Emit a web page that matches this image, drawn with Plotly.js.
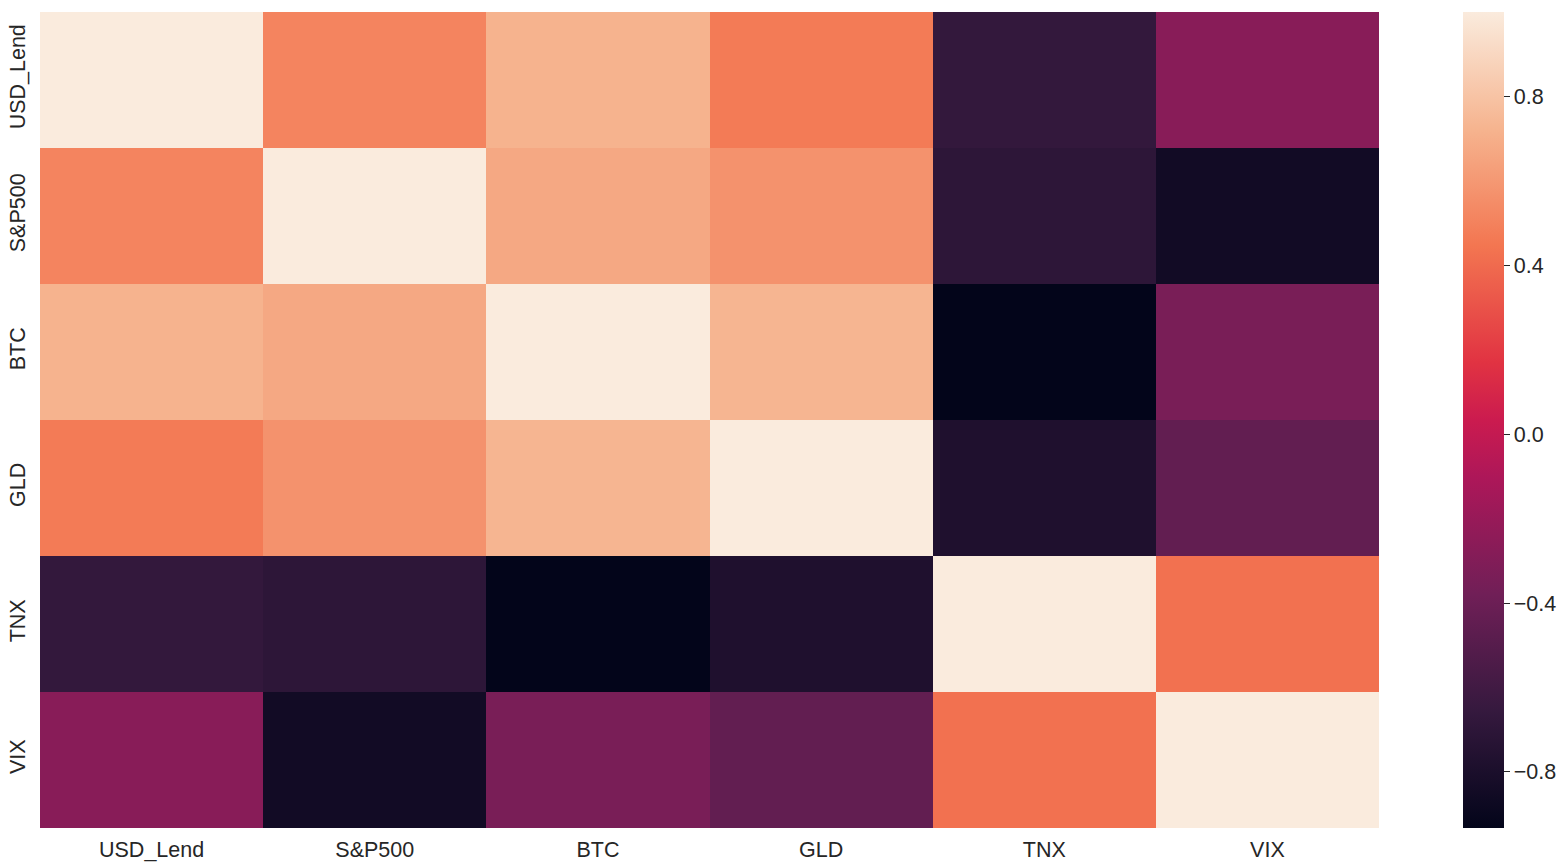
<!DOCTYPE html>
<html>
<head>
<meta charset="utf-8">
<script src="https://cdn.plot.ly/plotly-3.0.1.min.js"></script>
<style>html,body{margin:0;padding:0;background:#fff;}#chart{width:1567px;height:868px;}</style>
</head>
<body>
<div id="chart"></div>
<script>
const labels = ["USD_Lend", "S&P500", "BTC", "GLD", "TNX", "VIX"];
const rowUSD = [1.00, 0.51, 0.72, 0.47, -0.67, -0.27];
const rowSPX = [0.51, 1.00, 0.67, 0.57, -0.70, -0.85];
const rowBTC = [0.72, 0.67, 1.00, 0.73, -0.933, -0.34];
const rowGLD = [0.47, 0.57, 0.73, 1.00, -0.78, -0.445];
const rowTNX = [-0.67, -0.70, -0.933, -0.78, 1.00, 0.426];
const rowVIX = [-0.27, -0.85, -0.34, -0.445, 0.426, 1.00];
const cbTickVals = [-0.8, -0.4, 0.0, 0.4, 0.8];
const cbTickText = ["\u22120.8", "\u22120.4", "0.0", "0.4", "0.8"];

const rocket = [
  [0.0, "#03051a"],
  [0.143, "#35193e"],
  [0.286, "#701f57"],
  [0.429, "#ad1759"],
  [0.5, "#cb1b4f"],
  [0.571, "#e13342"],
  [0.714, "#f37651"],
  [0.857, "#f6b48f"],
  [1.0, "#faebdd"]
];

const font = {family: "Liberation Sans, Arial, sans-serif", size: 21.5, color: "#262626"};

const trace = {
  type: "heatmap",
  x: labels,
  y: labels,
  z: [rowUSD, rowSPX, rowBTC, rowGLD, rowTNX, rowVIX],
  colorscale: rocket,
  colorbar: {
    x: 1.0627, xanchor: "left", xpad: 0,
    y: 0.5, yanchor: "middle", ypad: 0,
    len: 816, lenmode: "pixels",
    thickness: 41, thicknessmode: "pixels",
    outlinewidth: 0,
    ticks: "outside", ticklen: 6, tickwidth: 1, tickcolor: "#262626",
    ticklabelstandoff: 6,
    tickvals: cbTickVals, ticktext: cbTickText,
    tickfont: font
  }
};

const layout = {
  width: 1567, height: 868,
  margin: {l: 40, r: 188, t: 12, b: 40, pad: 0, autoexpand: false},
  paper_bgcolor: "#fff", plot_bgcolor: "#fff",
  font: font,
  xaxis: {showgrid: false, zeroline: false, showline: false, ticks: "", tickfont: font, ticklabelstandoff: 6, fixedrange: true},
  yaxis: {showgrid: false, zeroline: false, showline: false, ticks: "", tickfont: font, autorange: "reversed", tickangle: -90, ticklabelstandoff: 10, fixedrange: true}
};

Plotly.newPlot("chart", [trace], layout, {displayModeBar: false, staticPlot: true});
</script>
</body>
</html>
